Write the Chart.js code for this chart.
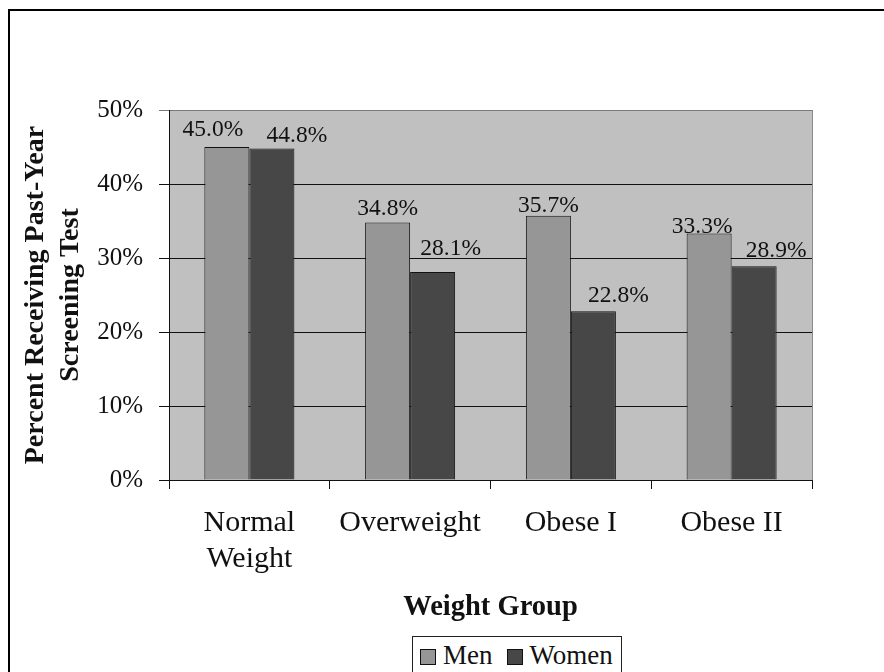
<!DOCTYPE html>
<html>
<head>
<meta charset="utf-8">
<script src="https://cdn.jsdelivr.net/npm/chart.js@4/dist/chart.umd.min.js"></script>
<style>
  html, body { margin: 0; padding: 0; background: #fff; }
  body { width: 884px; height: 672px; position: relative; overflow: hidden; }
  #frame { position: absolute; left: 8px; top: 9px; width: 900px; height: 700px;
           border-left: 2px solid #000; border-top: 2px solid #000; }
  #chart { position: absolute; left: 0; top: 0; }
  #legend { position: absolute; left: 412px; top: 636px; width: 210px; height: 44px;
            border: 1.5px solid #222; background: #fff; box-sizing: border-box;
            font-family: 'Liberation Serif', serif; font-size: 27px; color: #111;
            display: flex; align-items: flex-start; padding: 3px 0 0 7px; }
  #legend .sw { display: inline-block; width: 14px; height: 14px; border: 1px solid #111;
                margin: 9px 7px 0 0; }
  #legend .item { display: flex; align-items: flex-start; margin-right: 14px; line-height: 30px; }
</style>
</head>
<body>
<div id="frame"></div>
<canvas id="chart" width="884" height="672"></canvas>
<div id="legend"></div>
<script>
// Share of adults receiving a past-year screening test, by weight group and sex
const categories = [['Normal', 'Weight'], 'Overweight', 'Obese I', 'Obese II'];
const seriesNames = ['Men', 'Women'];
const menValues = [45.0, 34.8, 35.7, 33.3];
const womenValues = [44.8, 28.1, 22.8, 28.9];
const yTicks = [0, 10, 20, 30, 40, 50];

const colors = ['#969696', '#474747'];
const serif = "'Liberation Serif', 'Times New Roman', serif";

// Hand nudges for the value labels (dx, dy in px) so neighbours do not collide
const labelNudge = [
  [[-14, -4], [0, 0], [0, 3], [-7, 6]],
  [[25, 1], [18, -10], [25, -2], [22, -2]]
];

const plotBackground = {
  id: 'plotBackground',
  beforeDraw(chart) {
    const { ctx, chartArea: a } = chart;
    ctx.save();
    ctx.fillStyle = '#c0c0c0';
    ctx.fillRect(a.left, a.top, a.right - a.left, a.bottom - a.top);
    ctx.restore();
  },
  afterDraw(chart) {
    const { ctx, chartArea: a } = chart;
    ctx.save();
    ctx.strokeStyle = '#8a8a8a';
    ctx.lineWidth = 1;
    ctx.beginPath();
    ctx.moveTo(Math.round(a.right) + 0.5, a.top);
    ctx.lineTo(Math.round(a.right) + 0.5, a.bottom);
    ctx.stroke();
    ctx.restore();
  }
};

const valueLabels = {
  id: 'valueLabels',
  afterDatasetsDraw(chart) {
    const { ctx } = chart;
    ctx.save();
    ctx.font = '23.5px ' + serif;
    ctx.fillStyle = '#111';
    ctx.textAlign = 'center';
    ctx.textBaseline = 'alphabetic';
    chart.data.datasets.forEach((ds, di) => {
      const meta = chart.getDatasetMeta(di);
      meta.data.forEach((bar, i) => {
        const [dx, dy] = labelNudge[di][i];
        ctx.fillText(ds.data[i].toFixed(1) + '%', bar.x + dx, bar.y - 7 + dy);
      });
    });
    ctx.restore();
  }
};

new Chart(document.getElementById('chart'), {
  type: 'bar',
  data: {
    labels: categories,
    datasets: [
      { label: seriesNames[0], data: menValues, backgroundColor: colors[0],
        borderColor: '#111', borderWidth: 1 },
      { label: seriesNames[1], data: womenValues, backgroundColor: colors[1],
        borderColor: '#111', borderWidth: 1 }
    ]
  },
  options: {
    responsive: false,
    devicePixelRatio: 1,
    animation: false,
    layout: { padding: { left: 18, right: 72, top: 110, bottom: 40 } },
    datasets: { bar: { categoryPercentage: 0.56, barPercentage: 1.0 } },
    plugins: {
      legend: { display: false },
      tooltip: { enabled: false }
    },
    scales: {
      x: {
        afterFit(scale) { scale.height = 152; },
        grid: { offset: true, drawOnChartArea: false, drawTicks: true, tickLength: 9,
                color: '#111', lineWidth: 1 },
        border: { color: '#111', width: 1 },
        ticks: { font: { family: serif, size: 30, lineHeight: 1.2 }, color: '#111',
                 padding: 16, maxRotation: 0, autoSkip: false },
        title: { display: true, text: 'Weight Group', color: '#111',
                 font: { family: serif, size: 28.5, weight: 'bold', lineHeight: 1.2 },
                 padding: { top: 0, bottom: 7 } }
      },
      y: {
        min: 0, max: 50,
        afterFit(scale) { scale.width = 151; },
        afterBuildTicks(scale) { scale.ticks = yTicks.map(v => ({ value: v })); },
        grid: { drawTicks: true, tickLength: 10, lineWidth: 1,
                color: ctx => (ctx.tick && ctx.tick.value === 50 ? '#7a7a7a' : '#111') },
        border: { color: '#111', width: 1 },
        ticks: { font: { family: serif, size: 25 }, color: '#111', padding: 16,
                 callback: v => v + '%' },
        title: { display: true, text: ['Percent Receiving Past-Year', 'Screening Test'],
                 color: '#111', font: { family: serif, size: 28, weight: 'bold', lineHeight: 1.25 },
                 padding: { top: 0, bottom: 0 } }
      }
    }
  },
  plugins: [plotBackground, valueLabels]
});

// Legend box below the axis title
const legend = document.getElementById('legend');
seriesNames.forEach((name, i) => {
  const item = document.createElement('span');
  item.className = 'item';
  const sw = document.createElement('span');
  sw.className = 'sw';
  sw.style.background = colors[i];
  item.appendChild(sw);
  item.appendChild(document.createTextNode(name));
  legend.appendChild(item);
});
</script>
</body>
</html>
